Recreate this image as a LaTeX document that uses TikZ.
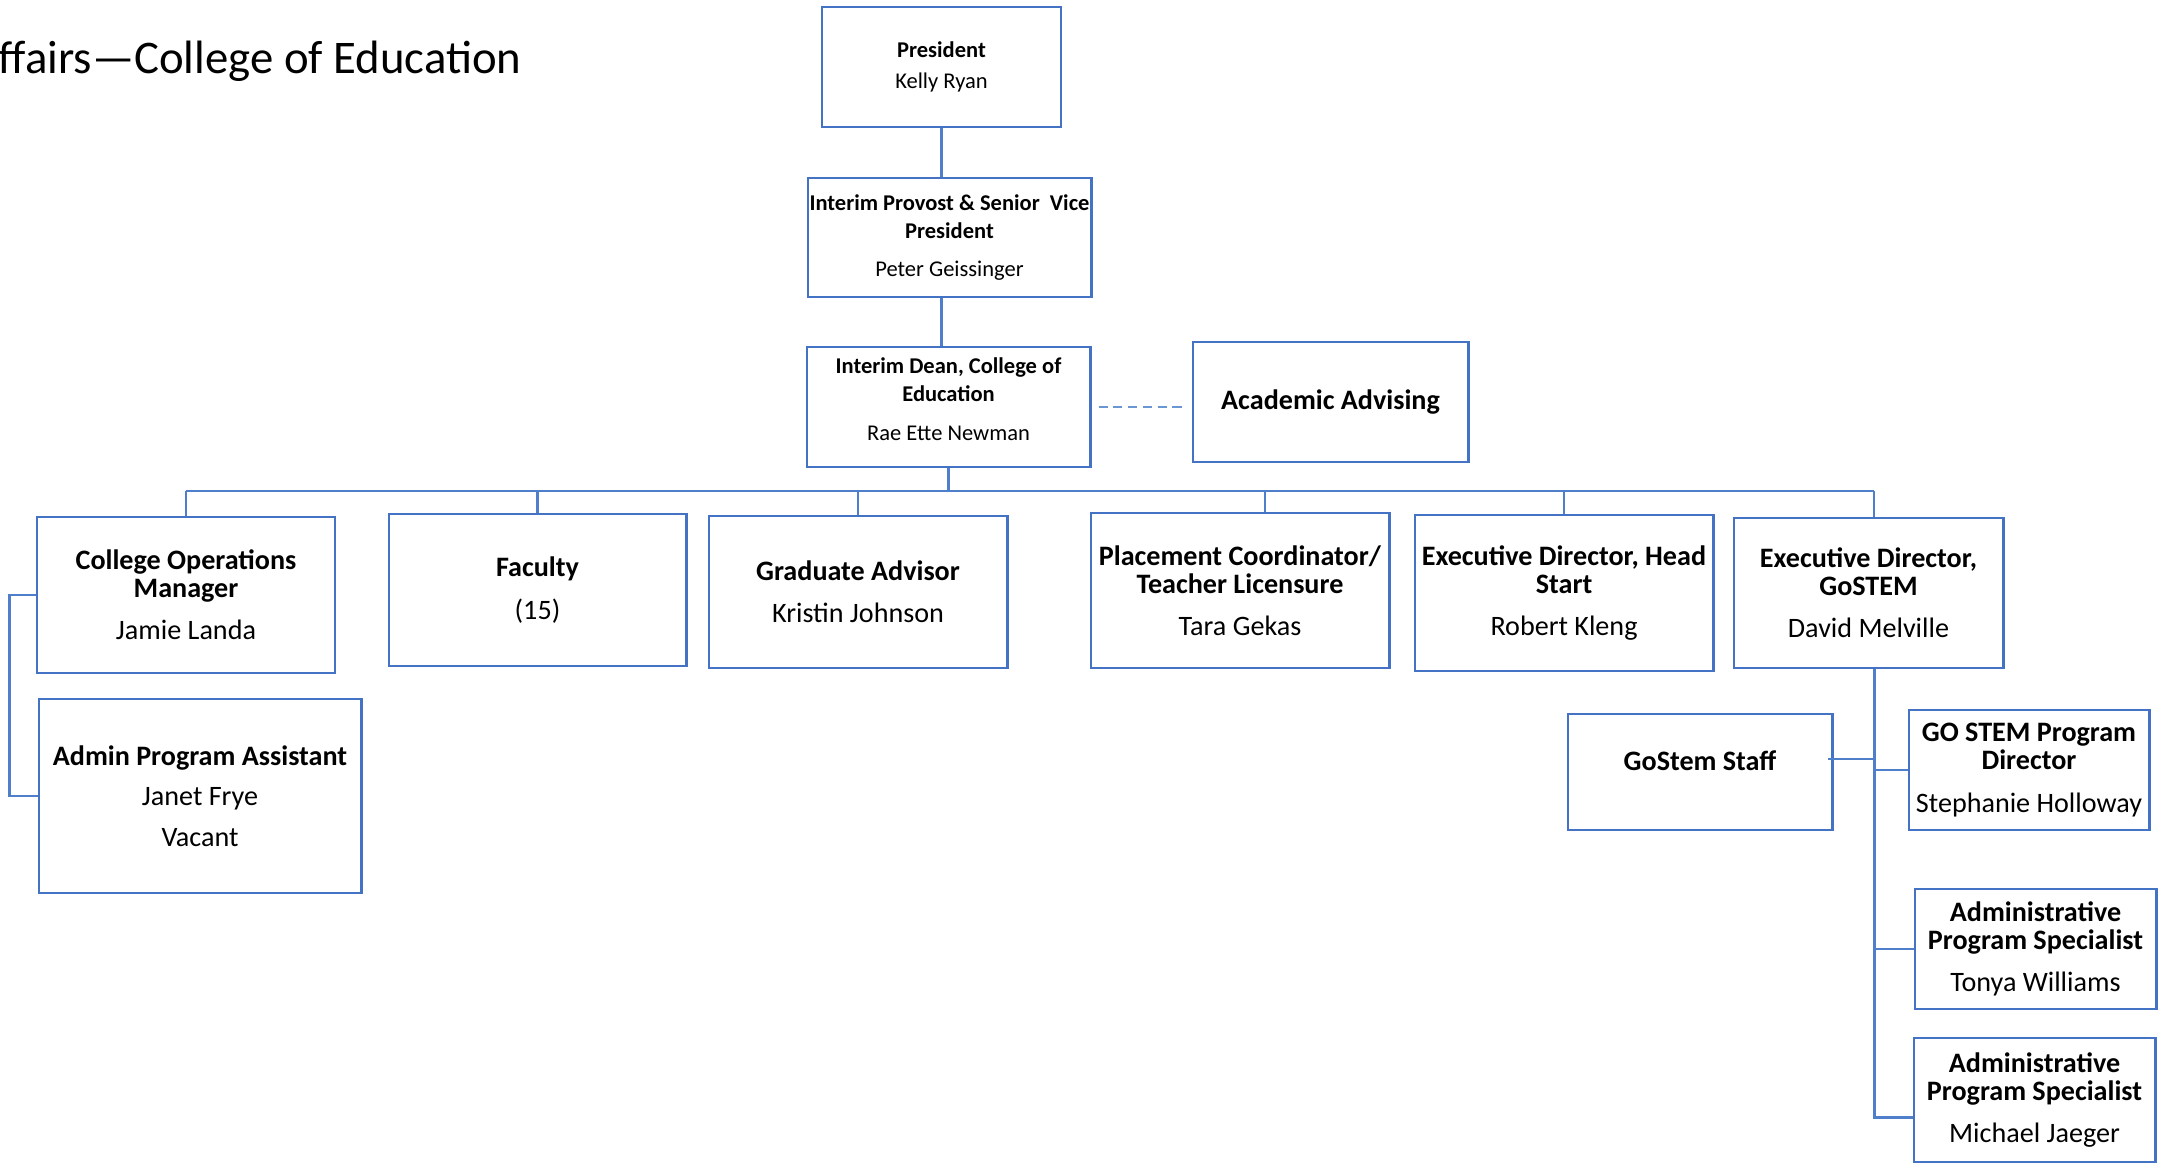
\documentclass[tikz,border=0pt]{standalone}
\usepackage{fontspec}
\setmainfont{Carlito}
\usetikzlibrary{positioning, calc}
\definecolor{boxblue}{HTML}{4472C4}
\definecolor{lineblue}{HTML}{4F7FCB}
\definecolor{dashblue}{HTML}{6A96D4}
\newcommand{\topsize}{\fontsize{6.4}{8}\selectfont}
\newcommand{\rowsize}{\fontsize{8}{8}\selectfont}

\begin{document}
\begin{tikzpicture}[x=0.01cm, y=-0.01cm,
    orgbox/.style={draw=boxblue, line width=0.8pt, align=center, inner sep=0pt},
    topbox/.style={orgbox, font=\topsize},
    rowbox/.style={orgbox, font=\rowsize},
    conn/.style={lineblue, line width=0.6pt}]
    \useasboundingbox (0,0) rectangle (2164,1162);

    % Title
    \node[anchor=base west, inner sep=0pt, font=\fontsize{13.3}{16}\selectfont] (title) at (-2,73) {ffairs—College of Education};

    % Top of the chart
    \node[topbox, minimum width=2.39cm, minimum height=1.20cm] (pres) at (941.5,67) {\textbf{President}\\[1pt]Kelly Ryan};
    \node[topbox, minimum width=2.83cm, minimum height=1.19cm] (prov) at (949.5,237.5) {\textbf{Interim Provost \& Senior\ \ Vice}\\\textbf{President}\\[3pt]Peter Geissinger};
    \node[topbox, minimum width=2.83cm, minimum height=1.20cm, text depth=0.16cm] (dean) at (948.5,407) {\textbf{Interim Dean, College of}\\\textbf{Education}\\[3pt]Rae Ette Newman};
    \node[rowbox, minimum width=2.75cm, minimum height=1.20cm] (adv) at (1330.5,402) {\textbf{Academic Advising}};

    % Reports to the dean
    \node[rowbox, minimum width=2.98cm, minimum height=1.56cm] (cops) at (186,595) {\textbf{College Operations}\\\textbf{Manager}\\[4pt]Jamie Landa};
    \node[rowbox, minimum width=2.97cm, minimum height=1.52cm] (fac) at (537.5,590) {\textbf{Faculty}\\[4pt](15)};
    \node[rowbox, minimum width=2.98cm, minimum height=1.52cm] (grad) at (858,592) {\textbf{Graduate Advisor}\\[4pt]Kristin Johnson};
    \node[rowbox, minimum width=2.98cm, minimum height=1.55cm] (place) at (1240,590.5) {\textbf{Placement Coordinator/}\\\textbf{Teacher Licensure}\\[4pt]Tara Gekas};
    \node[rowbox, minimum width=2.98cm, minimum height=1.56cm] (head) at (1564,593) {\textbf{Executive Director, Head}\\\textbf{Start}\\[4pt]Robert Kleng};
    \node[rowbox, minimum width=2.69cm, minimum height=1.50cm] (gexec) at (1868.5,593) {\textbf{Executive Director,}\\\textbf{GoSTEM}\\[4pt]David Melville};

    % Second level
    \node[rowbox, minimum width=3.22cm, minimum height=1.94cm] (apa) at (200,796) {\textbf{Admin Program Assistant}\\[3.5pt]Janet Frye\\[3.5pt]Vacant};
    \node[rowbox, minimum width=2.64cm, minimum height=1.16cm] (staff) at (1700,772) {\textbf{GoStem Staff}\\[-1.5pt]~};
    \node[rowbox, minimum width=2.40cm, minimum height=1.20cm] (gpd) at (2029,770) {\textbf{GO STEM Program}\\\textbf{Director}\\[4pt]Stephanie Holloway};
    \node[rowbox, minimum width=2.41cm, minimum height=1.20cm] (aps1) at (2035.5,949) {\textbf{Administrative}\\\textbf{Program Specialist}\\[4pt]Tonya Williams};
    \node[rowbox, minimum width=2.41cm, minimum height=1.24cm] (aps2) at (2034.5,1100) {\textbf{Administrative}\\\textbf{Program Specialist}\\[4pt]Michael Jaeger};

    % Connectors
    \coordinate (bus) at (0,491);
    \coordinate (gx) at ([xshift=0.055cm]gexec.south);
    \coordinate (mj) at ([yshift=-0.17cm]aps2.west);
    \draw[conn] (pres.south) -- (pres.south |- prov.north);
    \draw[conn] (pres.south |- prov.south) -- (pres.south |- dean.north);
    \draw[conn] (dean.south) -- (dean.south |- bus);
    \draw[conn] (cops.north |- bus) -- (gx |- bus);
    \foreach \n in {cops,fac,grad,head} {
        \draw[conn] (\n.north) -- (\n.north |- bus);
    }
    \draw[conn] ([xshift=0.25cm]place.north) -- ([xshift=0.25cm]place.north |- bus);
    \draw[conn] (gx |- gexec.north) -- (gx |- bus);
    \draw[dashblue, line width=0.6pt, dash pattern=on 2.6pt off 1.6pt] ([xshift=0.07cm]dean.east) -- ([xshift=-0.06cm]adv.west |- dean.east);
    \draw[conn] (cops.west) -- ++(-26,0) |- (apa.west);

    % GoSTEM branch
    \draw[conn, line width=0.85pt] (gx) |- (mj);
    \draw[conn] ([xshift=-0.06cm, yshift=0.13cm]staff.east) -- ([yshift=0.13cm]staff.east -| gx);
    \draw[conn] (gx |- gpd.west) -- (gpd.west);
    \draw[conn] (gx |- aps1.west) -- (aps1.west);
\end{tikzpicture}
\end{document}
